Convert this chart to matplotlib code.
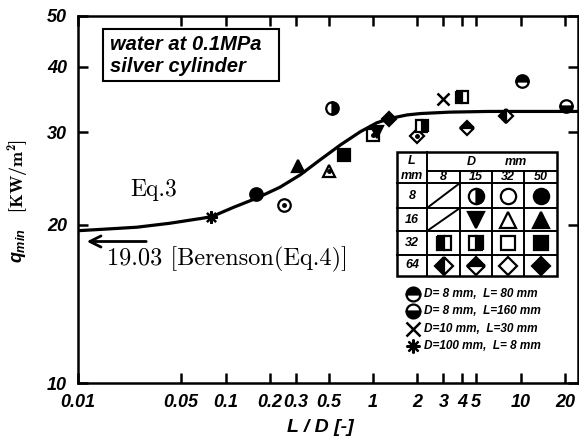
import matplotlib
matplotlib.use("Agg")
import matplotlib.pyplot as plt
from matplotlib.ticker import FixedLocator, FixedFormatter, NullLocator
from matplotlib.patches import Rectangle

plt.rcParams['mathtext.fontset'] = 'custom'
plt.rcParams['mathtext.it'] = 'Liberation Sans:italic:bold'
plt.rcParams['mathtext.rm'] = 'cmb10'
plt.rcParams['mathtext.bf'] = 'cmb10'

SANS = 'Liberation Sans'

# measured points: cylinder diameter D, length L [mm], L/D and q_min [kW/m2]
D_mm = [100, 50, 32, 50, 32, 15, 50, 32, 15, 50, 32, 15, 10, 8, 15, 8, 8, 8]
L_mm = [8, 8, 8, 16, 16, 8, 32, 32, 16, 64, 64, 32, 30, 32, 64, 64, 80, 160]
ld = [0.08, 0.16, 0.25, 0.31, 0.50, 0.53, 0.64, 1.0, 1.07, 1.28, 2.0, 2.13,
      3.0, 4.0, 4.3, 8.0, 10.2, 20.2]
qmin = [20.7, 22.9, 21.8, 25.9, 25.3, 33.4, 27.2, 29.7, 30.1, 31.8, 29.5, 30.8,
        34.7, 35.0, 30.6, 32.3, 37.6, 33.7]

# Eq.3 curve
eq3_ld = [0.01, 0.015, 0.025, 0.042, 0.07, 0.081, 0.113, 0.163, 0.234, 0.32,
          0.437, 0.6, 0.82, 1.06, 1.3, 1.7, 2.1, 3.3, 6.0, 25.0]
eq3_q = [19.5, 19.63, 19.8, 20.15, 20.6, 20.75, 21.6, 22.5, 23.6, 24.9,
         26.6, 28.4, 30.1, 31.3, 31.9, 32.4, 32.6, 32.8, 32.9, 32.9]

xticks = [0.01, 0.05, 0.1, 0.2, 0.3, 0.5, 1, 2, 3, 4, 5, 10, 20]
xticklabels = ['0.01', '0.05', '0.1', '0.2', '0.3', '0.5', '1', '2', '3', '4', '5', '10', '20']
yticks = [10, 20, 30, 40, 50]
yticklabels = ['10', '20', '30', '40', '50']

table_D = [8, 15, 32, 50]
table_L = [8, 16, 32, 64]
extra_keys = [(8, 80), (8, 160), (10, 30), (100, 8)]
extra_labels = ['D= 8 mm,  L= 80 mm', 'D= 8 mm,  L=160 mm',
                'D=10 mm,  L=30 mm', 'D=100 mm,  L= 8 mm']

# marker style for each (D, L) case
def st(marker, fill='full', face='k', **kw):
    d = dict(marker=marker, fillstyle=fill, markerfacecolor=face,
             markerfacecoloralt='w', markeredgecolor='k', markeredgewidth=1.6,
             linestyle='none', color='k')
    d.update(kw)
    return d

styles = {
    (50, 8): st('o'), (32, 8): st('o', face='w'), (15, 8): st('o', 'right'),
    (50, 16): st('^'), (32, 16): st('^', face='w'), (15, 16): st('v'),
    (50, 32): st('s'), (32, 32): st('s', face='w'), (15, 32): st('s', 'right'),
    (8, 32): st('s', 'left'),
    (50, 64): st('D'), (32, 64): st('D', face='w'), (15, 64): st('D', 'top'),
    (8, 64): st('D', 'left'),
    (8, 80): st('o', 'top'), (8, 160): st('o', 'bottom'),
    (10, 30): st('x', markeredgewidth=1.8),
    (100, 8): st((8, 2, 0), markeredgewidth=1.6),
}
open_cases = [(32, 8), (32, 16), (32, 32), (32, 64)]


def msize(key, base):
    # diamonds and squares read larger than circles at equal size
    m = styles[key]['marker']
    if m == 'D':
        return base * 0.8
    if m == 's':
        return base * 0.9
    return base


fig = plt.figure(figsize=(5.79, 4.43), dpi=100)
ax = fig.add_axes([78 / 579, 1 - 383 / 443, 500 / 579, 367 / 443])
ax.set_xscale('log')
ax.set_yscale('log')
ax.set_xlim(0.01, 24.5)
ax.set_ylim(10, 50)

ax.plot(eq3_ld, eq3_q, color='k', lw=2.3, zorder=2)
for d, l, x, y in zip(D_mm, L_mm, ld, qmin):
    ax.plot([x], [y], markersize=msize((d, l), 9), zorder=3, **styles[(d, l)])
    if (d, l) in open_cases:
        ax.plot([x], [y], 'o', color='k', markersize=2.5, zorder=4)

ax.xaxis.set_major_locator(FixedLocator(xticks))
ax.xaxis.set_major_formatter(FixedFormatter(xticklabels))
ax.yaxis.set_major_locator(FixedLocator(yticks))
ax.yaxis.set_major_formatter(FixedFormatter(yticklabels))
ax.xaxis.set_minor_locator(NullLocator())
ax.yaxis.set_minor_locator(NullLocator())
ax.tick_params(which='both', direction='in', top=True, right=True,
               length=7, width=1.8, pad=8)
for lab in ax.get_xticklabels() + ax.get_yticklabels():
    lab.set_fontfamily(SANS)
    lab.set_fontstyle('italic')
    lab.set_fontweight('bold')
    lab.set_fontsize(13)
for sp in ax.spines.values():
    sp.set_linewidth(1.8)

# overlay in pixel coordinates for annotations and the symbol table
ov = fig.add_axes([0, 0, 1, 1], zorder=5)
ov.set_xlim(0, 579)
ov.set_ylim(443, 0)
ov.axis('off')
ov.patch.set_alpha(0)

ov.text(320, 428, 'L / D [-]', ha='center', va='center', fontfamily=SANS,
        fontstyle='italic', fontweight='bold', fontsize=14)
ov.text(19, 263, r'$q_{min}$', rotation=90, rotation_mode='anchor',
        ha='left', va='center', fontsize=13)
ov.text(19, 213, r'[KW/m$^2$]', rotation=90, rotation_mode='anchor',
        ha='left', va='center', fontfamily='cmb10', fontsize=13)

ov.add_patch(Rectangle((103, 29), 176, 52, fill=False, lw=1.5, ec='k'))
ov.text(110, 44, 'water at 0.1MPa', ha='left', va='center', fontfamily=SANS,
        fontstyle='italic', fontweight='bold', fontsize=14.5)
ov.text(110, 66, 'silver cylinder', ha='left', va='center', fontfamily=SANS,
        fontstyle='italic', fontweight='bold', fontsize=14.5)

ov.text(154, 190, 'Eq.3', ha='center', va='center', fontfamily='cmr10', fontsize=17)
ov.text(107, 259, '19.03 [Berenson(Eq.4)]', ha='left', va='center',
        fontfamily='cmr10', fontsize=17.5)
ov.annotate('', xy=(84, 241.5), xytext=(149, 241.5),
            arrowprops=dict(arrowstyle='->', lw=2, color='k', mutation_scale=20))

# symbol table
cols = [397, 427, 460, 492, 524, 557]
rows = [152, 183, 208, 231, 255, 276]
ov.add_patch(Rectangle((cols[0], rows[0]), cols[-1] - cols[0], rows[-1] - rows[0],
                       fc='w', ec='k', lw=1.8, zorder=1))
lk = dict(color='k', lw=1.4, zorder=2)
ov.plot([cols[1], cols[1]], [rows[0], rows[-1]], **lk)
for x in cols[2:-1]:
    ov.plot([x, x], [171, rows[-1]], **lk)
ov.plot([cols[1], cols[-1]], [171, 171], **lk)
for y in rows[1:-1]:
    ov.plot([cols[0], cols[-1]], [y, y], **lk)
# diagonals in the empty D=8 cells
for i in (1, 2):
    ov.plot([cols[1], cols[2]], [rows[i + 1], rows[i]], **lk)

tk = dict(fontfamily=SANS, fontstyle='italic', fontweight='bold', fontsize=9,
          ha='center', va='center', zorder=3)
ov.text(412, 161, 'L', **tk)
ov.text(412, 176, 'mm', **tk)
ov.text(471, 162, 'D', **tk)
ov.text(516, 162, 'mm', **tk)
for j, d in enumerate(table_D):
    cx = (cols[j + 1] + cols[j + 2]) / 2
    ov.text(cx, 177.5, str(d), **tk)
for i, l in enumerate(table_L):
    cy = (rows[i + 1] + rows[i + 2]) / 2
    ov.text(412, cy, str(l), **tk)
    for j, d in enumerate(table_D):
        cx = (cols[j + 1] + cols[j + 2]) / 2
        if (d, l) in styles:
            ov.plot([cx], [cy], markersize=msize((d, l), 11), zorder=3,
                    **styles[(d, l)])

for k, (key, text) in enumerate(zip(extra_keys, extra_labels)):
    y = 294 + k * 17.4
    ov.plot([413], [y], markersize=10, zorder=3, **styles[key])
    ov.text(424, y, text, ha='left', va='center', fontfamily=SANS,
            fontstyle='italic', fontweight='bold', fontsize=8.5)

fig.savefig('out.png', dpi=100)
